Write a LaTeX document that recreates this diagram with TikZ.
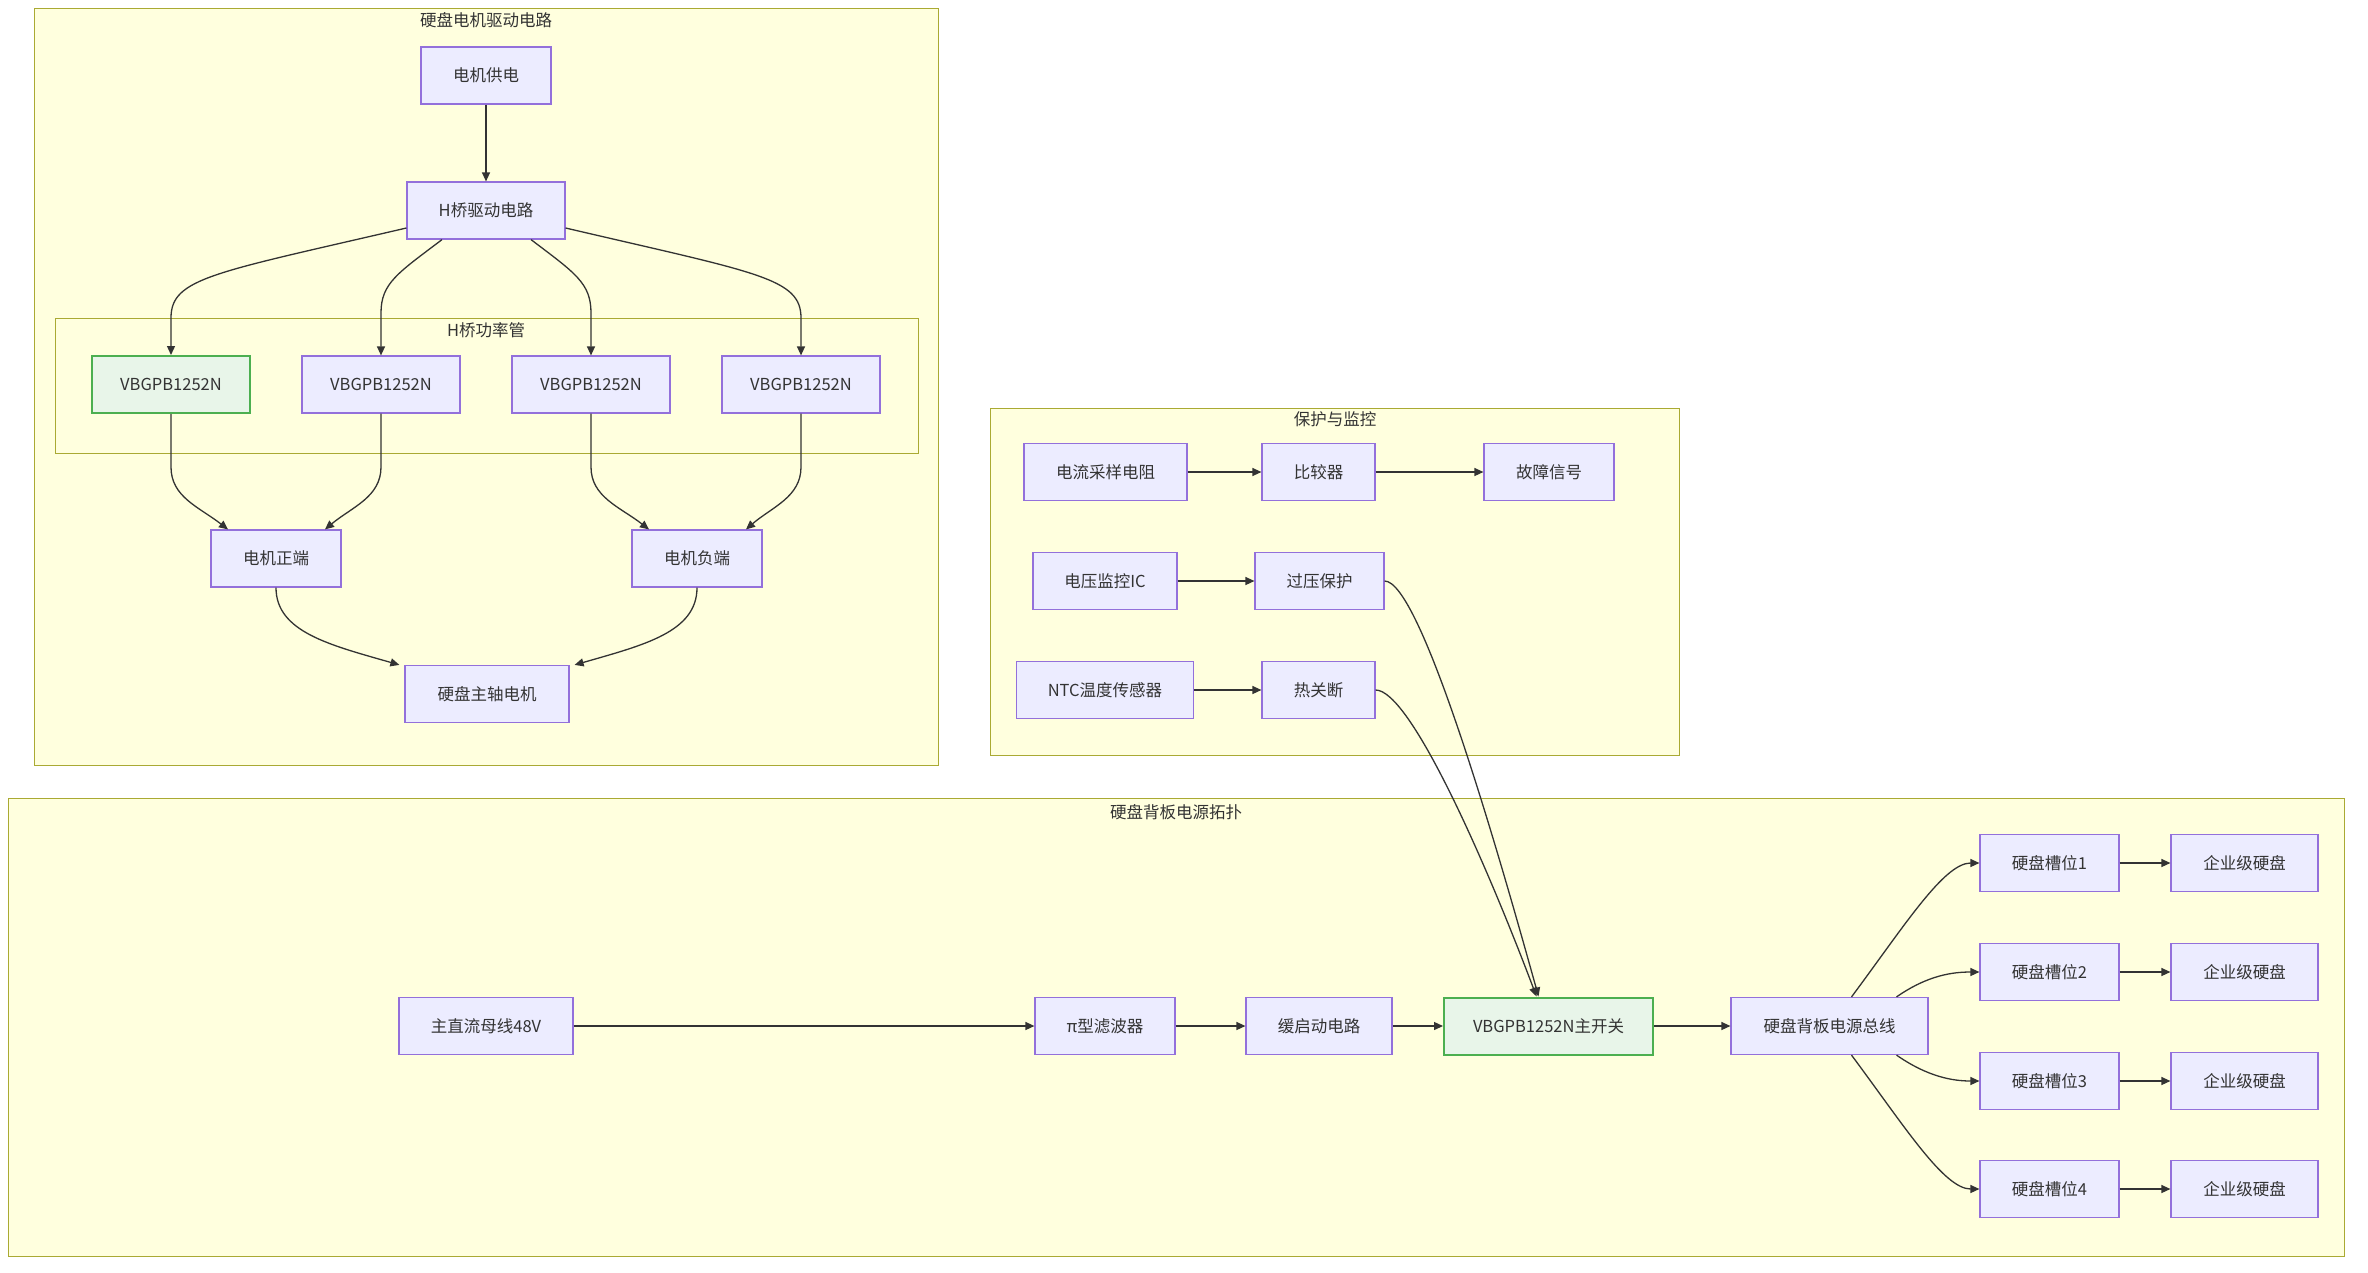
\documentclass[tikz,border=0pt]{standalone}
\usepackage{fontspec}
\setmainfont{Noto Sans CJK SC}
\usetikzlibrary{arrows.meta,calc}
\definecolor{nfill}{HTML}{ECECFF}
\definecolor{nline}{HTML}{9370DB}
\definecolor{cfill}{HTML}{FFFFDE}
\definecolor{cline}{HTML}{AAAA33}
\definecolor{gfill}{HTML}{E8F5E9}
\definecolor{gline}{HTML}{4CAF50}
\definecolor{txt}{HTML}{333333}
\tikzset{
  nd/.style={draw=nline, fill=nfill, line width=1.2pt, minimum height=57pt, inner sep=0pt,
    text=txt, font=\fontsize{16.5}{20}\selectfont},
  hl/.style={nd, draw=gline, fill=gfill, line width=2pt},
  cluster/.style={draw=cline, fill=cfill, line width=1pt},
  ctitle/.style={text=txt, font=\fontsize{16.5}{20}\selectfont, inner sep=0pt},
  edge/.style={draw=txt, line width=1.3pt, -{Triangle[length=9pt,width=8pt]}}
}
\begin{document}
\begin{tikzpicture}[x=1pt,y=-1pt]
\useasboundingbox (0,0) rectangle (2368,1272);
\fill[white] (0,0) rectangle (2368,1272);

% clusters
\draw[cluster] (34,8) rectangle (938,765);
\draw[cluster] (55,318) rectangle (918,453);
\draw[cluster] (990,408) rectangle (1679,755);
\draw[cluster] (8,798) rectangle (2344,1256);
\node[ctitle] (t1) at (486,20) {硬盘电机驱动电路};
\node[ctitle] (t2) at (486,330) {H桥功率管};
\node[ctitle] (t3) at (1335,419) {保护与监控};
\node[ctitle] (t4) at (1176,812) {硬盘背板电源拓扑};

% motor drive
\node[nd, minimum width=130pt] (sup) at (486,75.5) {电机供电};
\node[nd, minimum width=158pt] (hb) at (486,210.5) {H桥驱动电路};
\node[hl, minimum width=158pt] (v1) at (171,384.5) {VBGPB1252N};
\node[nd, minimum width=158pt] (v2) at (381,384.5) {VBGPB1252N};
\node[nd, minimum width=158pt] (v3) at (591,384.5) {VBGPB1252N};
\node[nd, minimum width=158pt] (v4) at (801,384.5) {VBGPB1252N};
\node[nd, minimum width=130pt] (pos) at (276,558.5) {电机正端};
\node[nd, minimum width=130pt] (neg) at (697,558.5) {电机负端};
\node[nd, minimum width=164pt] (mot) at (487,694) {硬盘主轴电机};

% protection
\node[nd, minimum width=163pt] (cs) at (1105.5,472) {电流采样电阻};
\node[nd, minimum width=113pt] (cmp) at (1318.5,472) {比较器};
\node[nd, minimum width=130pt] (flt) at (1549,472) {故障信号};
\node[nd, minimum width=144pt] (vm) at (1105,581) {电压监控IC};
\node[nd, minimum width=129pt] (ovp) at (1319.5,581) {过压保护};
\node[nd, minimum width=177pt] (ntc) at (1105,690) {NTC温度传感器};
\node[nd, minimum width=113pt] (tsd) at (1318.5,690) {热关断};

% backplane
\node[nd, minimum width=174pt] (bus48) at (486,1026) {主直流母线48V};
\node[nd, minimum width=140pt] (pif) at (1105,1026) {π型滤波器};
\node[nd, minimum width=146pt] (soft) at (1319,1026) {缓启动电路};
\node[hl, minimum width=209pt] (sw) at (1548.5,1026) {VBGPB1252N主开关};
\node[nd, minimum width=197pt] (bpb) at (1829.5,1026) {硬盘背板电源总线};
\node[nd, minimum width=139pt] (s1) at (2049.5,863) {硬盘槽位1};
\node[nd, minimum width=139pt] (s2) at (2049.5,972) {硬盘槽位2};
\node[nd, minimum width=139pt] (s3) at (2049.5,1081) {硬盘槽位3};
\node[nd, minimum width=139pt] (s4) at (2049.5,1189) {硬盘槽位4};
\node[nd, minimum width=147pt] (d1) at (2244.5,863) {企业级硬盘};
\node[nd, minimum width=147pt] (d2) at (2244.5,972) {企业级硬盘};
\node[nd, minimum width=147pt] (d3) at (2244.5,1081) {企业级硬盘};
\node[nd, minimum width=147pt] (d4) at (2244.5,1189) {企业级硬盘};

% edges motor
\draw[edge] (sup) -- (hb);
\draw[edge] ([yshift=-17.5pt]hb.west) .. controls (213,273) and (171,278) .. (171,318) -- (v1.north);
\draw[edge] ([xshift=-44pt]hb.south) .. controls (398,273) and (381,283) .. (381,313) -- (v2.north);
\draw[edge] ([xshift=45pt]hb.south) .. controls (575,273) and (591,283) .. (591,313) -- (v3.north);
\draw[edge] ([yshift=-17.5pt]hb.east) .. controls (758,273) and (801,278) .. (801,318) -- (v4.north);
\draw[edge] (v1.south) -- (171,467) .. controls (171,497) and (199,507) .. ([xshift=-48pt]pos.north);
\draw[edge] (v2.south) -- (381,467) .. controls (381,497) and (352,507) .. ([xshift=49pt]pos.north);
\draw[edge] (v3.south) -- (591,467) .. controls (591,497) and (620,507) .. ([xshift=-48pt]neg.north);
\draw[edge] (v4.south) -- (801,467) .. controls (801,497) and (772,507) .. ([xshift=49pt]neg.north);
\draw[edge] (pos.south) .. controls (276,632) and (330,645) .. ([xshift=-5pt]mot.north west);
\draw[edge] (neg.south) .. controls (697,632) and (644,645) .. ([xshift=5pt]mot.north east);

% edges protection
\draw[edge] (cs) -- (cmp);
\draw[edge] (cmp) -- (flt);
\draw[edge] (vm) -- (ovp);
\draw[edge] (ntc) -- (tsd);
\draw[edge] (ovp.east) .. controls (1420,581) and (1495,840) .. ([xshift=-10pt]sw.north);
\draw[edge] (tsd.east) .. controls (1410,690) and (1485,860) .. ([xshift=-12pt]sw.north);

% edges backplane
\draw[edge] (bus48) -- (pif);
\draw[edge] (pif) -- (soft);
\draw[edge] (soft) -- (sw);
\draw[edge] (sw) -- (bpb);
\draw[edge] ([xshift=22pt]bpb.north) .. controls (1905,925) and (1944,863) .. (s1.west);
\draw[edge] ([xshift=67pt]bpb.north) .. controls (1928,975) and (1953,972) .. (s2.west);
\draw[edge] ([xshift=67pt]bpb.south) .. controls (1928,1077) and (1953,1081) .. (s3.west);
\draw[edge] ([xshift=22pt]bpb.south) .. controls (1905,1127) and (1944,1189) .. (s4.west);
\draw[edge] (s1) -- (d1);
\draw[edge] (s2) -- (d2);
\draw[edge] (s3) -- (d3);
\draw[edge] (s4) -- (d4);
\end{tikzpicture}
\end{document}
